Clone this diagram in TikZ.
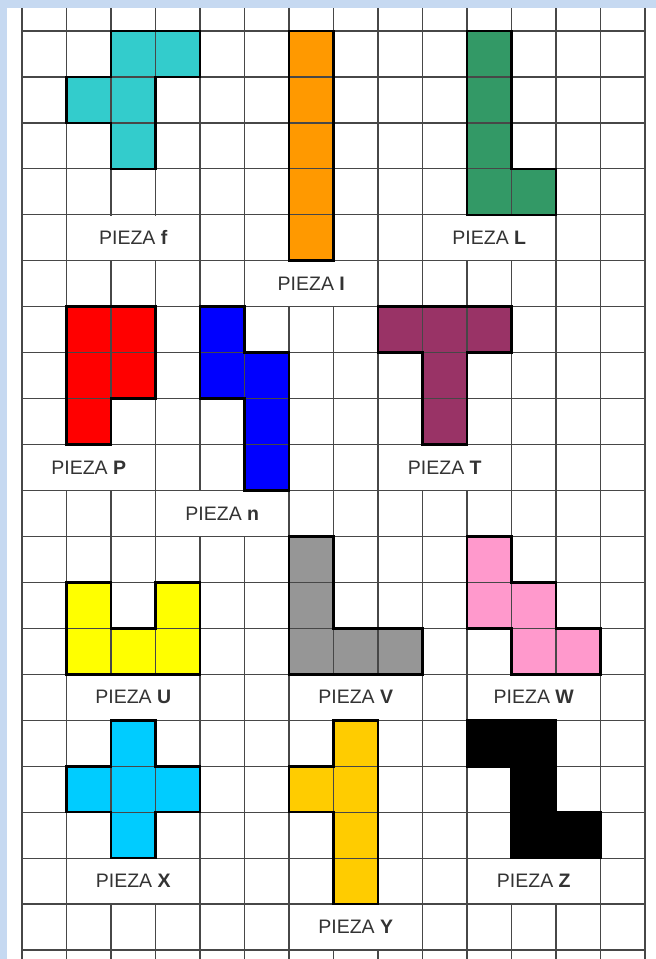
\documentclass[tikz,border=0pt]{standalone}
\usepackage{fontspec}
\setmainfont{Liberation Sans}
\definecolor{bordercol}{HTML}{C6D9F1}
\definecolor{colF}{HTML}{33CCCC}
\definecolor{colI}{HTML}{FF9900}
\definecolor{colL}{HTML}{339966}
\definecolor{colP}{HTML}{FF0000}
\definecolor{colN}{HTML}{0000FF}
\definecolor{colT}{HTML}{993366}
\definecolor{colU}{HTML}{FFFF00}
\definecolor{colV}{HTML}{969696}
\definecolor{colW}{HTML}{FF99CC}
\definecolor{colX}{HTML}{00CCFF}
\definecolor{colY}{HTML}{FFCC00}
\definecolor{colZ}{HTML}{000000}
\definecolor{txtcol}{HTML}{333333}
\tikzset{
  gridline/.style={line width=1.2pt, draw=black!72},
  outline/.style={line width=2.6pt, draw=black, line join=miter},
  lbltext/.style={inner sep=0pt, text=txtcol, font=\fontsize{19.5}{22}\selectfont},
}
\newcommand\pcF{(2,0)--(4,0)--(4,1)--(3,1)--(3,3)--(2,3)--(2,2)--(1,2)--(1,1)--(2,1)--cycle}
\newcommand\pcI{(6,0)--(7,0)--(7,5)--(6,5)--cycle}
\newcommand\pcL{(10,0)--(11,0)--(11,3)--(12,3)--(12,4)--(10,4)--cycle}
\newcommand\pcP{(1,6)--(3,6)--(3,8)--(2,8)--(2,9)--(1,9)--cycle}
\newcommand\pcN{(4,6)--(5,6)--(5,7)--(6,7)--(6,10)--(5,10)--(5,8)--(4,8)--cycle}
\newcommand\pcT{(8,6)--(11,6)--(11,7)--(10,7)--(10,9)--(9,9)--(9,7)--(8,7)--cycle}
\newcommand\pcU{(1,12)--(2,12)--(2,13)--(3,13)--(3,12)--(4,12)--(4,14)--(1,14)--cycle}
\newcommand\pcV{(6,11)--(7,11)--(7,13)--(9,13)--(9,14)--(6,14)--cycle}
\newcommand\pcW{(10,11)--(11,11)--(11,12)--(12,12)--(12,13)--(13,13)--(13,14)--(11,14)--(11,13)--(10,13)--cycle}
\newcommand\pcX{(2,15)--(3,15)--(3,16)--(4,16)--(4,17)--(3,17)--(3,18)--(2,18)--(2,17)--(1,17)--(1,16)--(2,16)--cycle}
\newcommand\pcY{(7,15)--(8,15)--(8,19)--(7,19)--(7,17)--(6,17)--(6,16)--(7,16)--cycle}
\newcommand\pcZ{(10,15)--(12,15)--(12,17)--(13,17)--(13,18)--(11,18)--(11,16)--(10,16)--cycle}
\begin{document}
\begin{tikzpicture}
\useasboundingbox (0pt,0pt) rectangle (656pt,-959pt);
\fill[bordercol] (0pt,0pt) rectangle (656pt,-959pt);
\fill[white] (7pt,-8pt) rectangle (656pt,-959pt);
\begin{scope}[shift={(22pt,-31pt)}, x=44.5pt, y=-45.95pt]
  % piece fills
  \fill[colF] \pcF;
  \fill[colI] \pcI;
  \fill[colL] \pcL;
  \fill[colP] \pcP;
  \fill[colN] \pcN;
  \fill[colT] \pcT;
  \fill[colU] \pcU;
  \fill[colV] \pcV;
  \fill[colW] \pcW;
  \fill[colX] \pcX;
  \fill[colY] \pcY;
  % grid
  \foreach \i in {0,...,14} \draw[gridline] (\i,-0.5) -- (\i,20.19);
  \foreach \j in {0,...,20} \draw[gridline] (0,\j) -- (14,\j);
  \fill[colZ] \pcZ;
  % merged label cells
  \foreach \nm/\a/\b/\r/\t in {f/1/4/4/f, I/5/8/5/I, L/9/12/4/L, P/0/3/9/P, T/8/11/9/T, n/3/6/10/n,
      U/1/4/14/U, V/6/9/14/V, W/10/13/14/W, X/1/4/18/X, Z/10/13/18/Z, Y/6/9/19/Y} {
    \fill[white] (\a+0.02,\r+0.02) rectangle (\b-0.02,\r+0.98);
    \node[lbltext] (lab\nm) at ({(\a+\b)/2},\r+0.5) {PIEZA \textbf{\t}};
  }
  % piece outlines
  \draw[outline] \pcF;
  \draw[outline] \pcI;
  \draw[outline] \pcL;
  \draw[outline] \pcP;
  \draw[outline] \pcN;
  \draw[outline] \pcT;
  \draw[outline] \pcU;
  \draw[outline] \pcV;
  \draw[outline] \pcW;
  \draw[outline] \pcX;
  \draw[outline] \pcY;
  \draw[outline] \pcZ;
\end{scope}
\end{tikzpicture}
\end{document}
